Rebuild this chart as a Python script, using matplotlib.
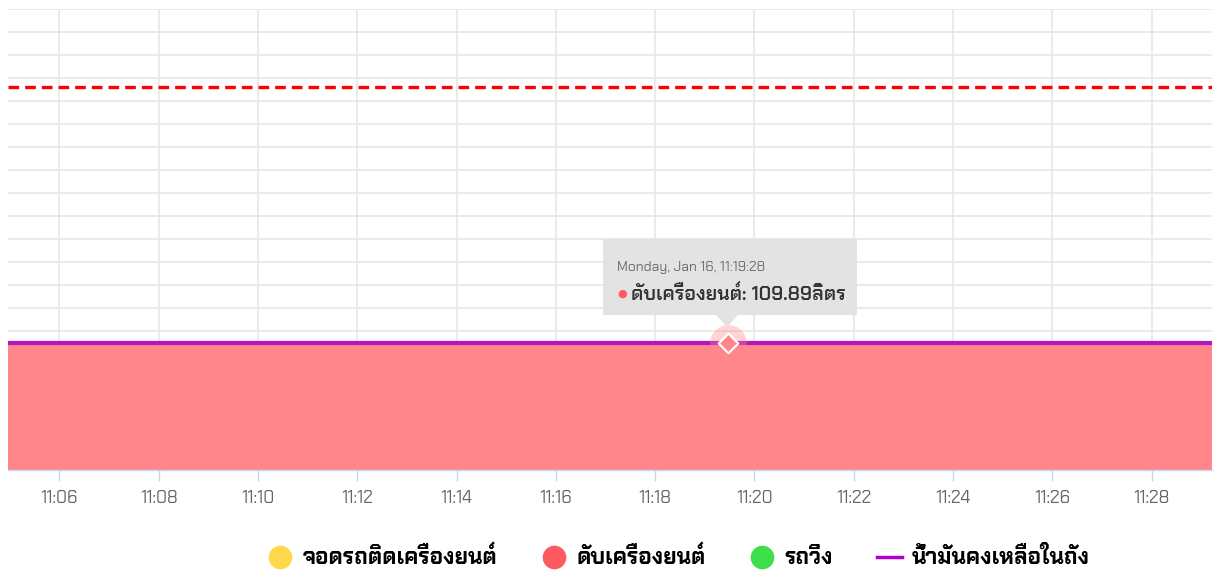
import matplotlib
matplotlib.use("Agg")
import pandas as pd
import matplotlib.pyplot as plt
import matplotlib.dates as mdates
from matplotlib.lines import Line2D
from matplotlib.patches import FancyBboxPatch, Polygon

# ---- data ----
day = "2023-01-16 "
times = ["11:04:30", "11:19:28", "11:29:30"]
engine_off = [109.89, 109.89, 109.89]      # ดับเครื่องยนต์ (area)
fuel_left = [109.89, 109.89, 109.89]       # น้ำมันคงเหลือในถัง (line)
idle_times, idle_vals = [], []              # จอดรถติดเครื่องยนต์
drive_times, drive_vals = [], []            # รถวิ่ง
limit_level = 332                           # red dashed limit
hover_time = "11:19:28"
hover_value = 109.89

x_start, x_end = "11:04:58", "11:29:13"
y_max = 400
y_step = 20

legend_names = ["จอดรถติดเครื่องยนต์", "ดับเครื่องยนต์", "รถวิ่ง", "น้ำมันคงเหลือในถัง"]

# ---- fonts ----
thai_font = ["Chakra Petch", "DejaVu Sans"]
plt.rcParams['font.family'] = thai_font

t = pd.to_datetime([day + s for s in times])
t_hover = pd.to_datetime(day + hover_time)

fig = plt.figure(figsize=(12.19, 5.71), dpi=100)
ax = fig.add_axes([8 / 1219, 101.5 / 571, 1204 / 1219, 461 / 571])

# area + fuel line
ax.fill_between(t, 0, engine_off, color="#ff868b", linewidth=0, zorder=2)
ax.plot(t, engine_off, color="#ff5a62", linewidth=1.5, zorder=3)
ax.plot(t, fuel_left, color="#b415c0", linewidth=3, zorder=4)
ax.plot(pd.to_datetime([day + s for s in idle_times]), idle_vals, color="#ffd84d")
ax.plot(pd.to_datetime([day + s for s in drive_times]), drive_vals, color="#3de04a")

# limit line
ax.axhline(limit_level, color="#ff0000", linewidth=2.4, linestyle=(0, (3.2, 1.8)), zorder=3)

# axes
ax.set_xlim(pd.to_datetime(day + x_start), pd.to_datetime(day + x_end))
ax.set_ylim(0, y_max)
ax.set_yticks(range(0, y_max + 1, y_step))
ax.xaxis.set_major_locator(mdates.MinuteLocator(byminute=range(0, 60, 2)))
ax.xaxis.set_major_formatter(mdates.DateFormatter("%H:%M"))
ax.grid(True, color="#e6e6e6", linewidth=1.2, zorder=0)
ax.set_axisbelow(True)
for s in ["top", "right", "left"]:
    ax.spines[s].set_visible(False)
ax.spines["bottom"].set_color("#ccd6eb")
ax.spines["bottom"].set_linewidth(1)
ax.tick_params(axis="y", left=False, labelleft=False)
ax.tick_params(axis="x", length=8, width=1, color="#ccd6eb", labelcolor="#666666",
               labelsize=12.5, pad=7)

# hover marker
ax.scatter([t_hover], [hover_value], s=700, color="#ff868b", alpha=0.35, linewidths=0, zorder=5)
ax.scatter([t_hover], [hover_value], s=100, marker="D", facecolor="#ff868b",
           edgecolor="white", linewidths=1.5, zorder=6)

# tooltip box (pixel coords of the figure)
H = 571
box = FancyBboxPatch((603 / 1219, (H - 315) / H), 254 / 1219, 76 / H,
                     boxstyle="square,pad=0", transform=fig.transFigure,
                     facecolor="#e2e2e2", edgecolor="none", alpha=0.95, zorder=10)
fig.add_artist(box)
tip = Polygon([[716 / 1219, (H - 315) / H], [738 / 1219, (H - 315) / H],
               [727 / 1219, (H - 327) / H]], closed=True, transform=fig.transFigure,
              facecolor="#e2e2e2", edgecolor="none", alpha=0.95, zorder=10)
fig.add_artist(tip)
fig.text(617 / 1219, (H - 268) / H, "Monday, Jan 16, " + hover_time, fontsize=10,
         color="#6e6e6e", va="center", ha="left", zorder=11)
fig.text(617 / 1219, (H - 294) / H, "●", fontsize=8, color="#ff5a62",
         va="center", ha="left", zorder=11, family="DejaVu Sans")
fig.text(631 / 1219, (H - 294) / H, "ดับเครื่องยนต์: %.2fลิตร" % hover_value,
         fontsize=14, color="#333333", va="center", ha="left", zorder=11,
         weight="semibold")

# legend
handles = [
    Line2D([], [], linestyle="none", marker="o", markersize=16, color="#ffd84d"),
    Line2D([], [], linestyle="none", marker="o", markersize=16, color="#ff5a62"),
    Line2D([], [], linestyle="none", marker="o", markersize=16, color="#3de04a"),
    Line2D([], [], color="#b000d0", linewidth=2.5),
]
fig.legend(handles, legend_names, loc="center", bbox_to_anchor=(0.557, (H - 558) / H),
           ncol=4, frameon=False, handlelength=1.1, handletextpad=0.45,
           columnspacing=2.0, prop={"weight": "bold", "size": 16})

fig.savefig("out.png", dpi=100)
